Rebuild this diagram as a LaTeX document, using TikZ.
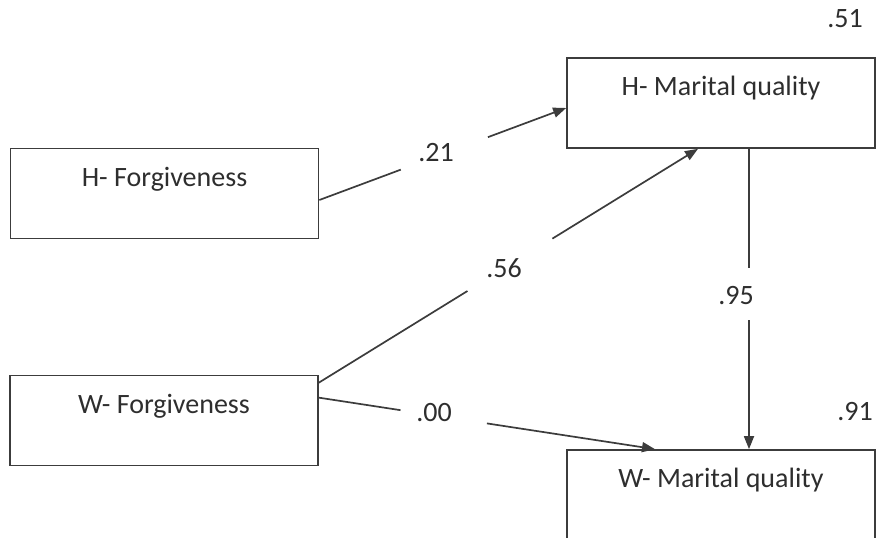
\documentclass[tikz,border=0pt]{standalone}
\usepackage{fontspec}
\setmainfont{Carlito}
\usetikzlibrary{calc,arrows.meta}
\definecolor{ink}{HTML}{3C3C3C}
\definecolor{textink}{HTML}{2E2E2E}
\begin{document}
\begin{tikzpicture}[x=1pt,y=-1pt,
  box/.style={draw=ink, line width=1.7pt, minimum width=308pt, inner xsep=0pt,
    inner ysep=0pt, text height=37.5pt, text depth=52.5pt,
    font=\fontsize{28}{33}\selectfont, text=textink},
  coef/.style={font=\fontsize{28}{33}\selectfont, text=textink, inner sep=0pt},
  link/.style={draw=ink, line width=1.7pt},
  arr/.style={link, -{Triangle[length=13pt,width=10pt]}}]
\clip (0,0) rectangle (876,538);

% variables
\node[box] (hf) at (164.5,193.5) {H- Forgiveness};
\node[box] (wf) at (164,420.5) {W- Forgiveness};
\node[box] (hm) at (721,103) {H- Marital quality};
\node[box] (wm) at (721,495) {W- Marital quality};

% path coefficients and explained variance
\node[coef] (c21) at (436,153) {.21};
\node[coef] (c56) at (504,268) {.56};
\node[coef] (c00) at (434,413) {.00};
\node[coef] (c95) at (736,296) {.95};
\node[coef] (c51) at (845,19) {.51};
\node[coef] (c91) at (855,412) {.91};

% connector end points
\coordinate (s1) at ($(hf.east)+(0,6.5)$);
\coordinate (e1) at ($(hm.west)+(0,5)$);
\coordinate (s2) at ($(wf.north east)+(0,8)$);
\coordinate (e2) at ($(hm.south)+(-23,0)$);
\coordinate (s3) at ($(wf.north east)+(0,23)$);
\coordinate (e3) at ($(wm.north)+(-66,0)$);
\coordinate (s4) at ($(hm.south)+(28,0)$);
\coordinate (e4) at ($(wm.north)+(28,0)$);

% each path is broken where its coefficient sits
\draw[link] (s1) -- ($(s1)!0.33!(e1)$);
\draw[arr]  ($(s1)!0.683!(e1)$) -- (e1);
\draw[link] (s2) -- ($(s2)!0.392!(e2)$);
\draw[arr]  ($(s2)!0.616!(e2)$) -- (e2);
\draw[link] (s3) -- ($(s3)!0.243!(e3)$);
\draw[arr]  ($(s3)!0.50!(e3)$) -- (e3);
\draw[link] (s4) -- ($(s4)!0.397!(e4)$);
\draw[arr]  ($(s4)!0.57!(e4)$) -- (e4);
\end{tikzpicture}
\end{document}
